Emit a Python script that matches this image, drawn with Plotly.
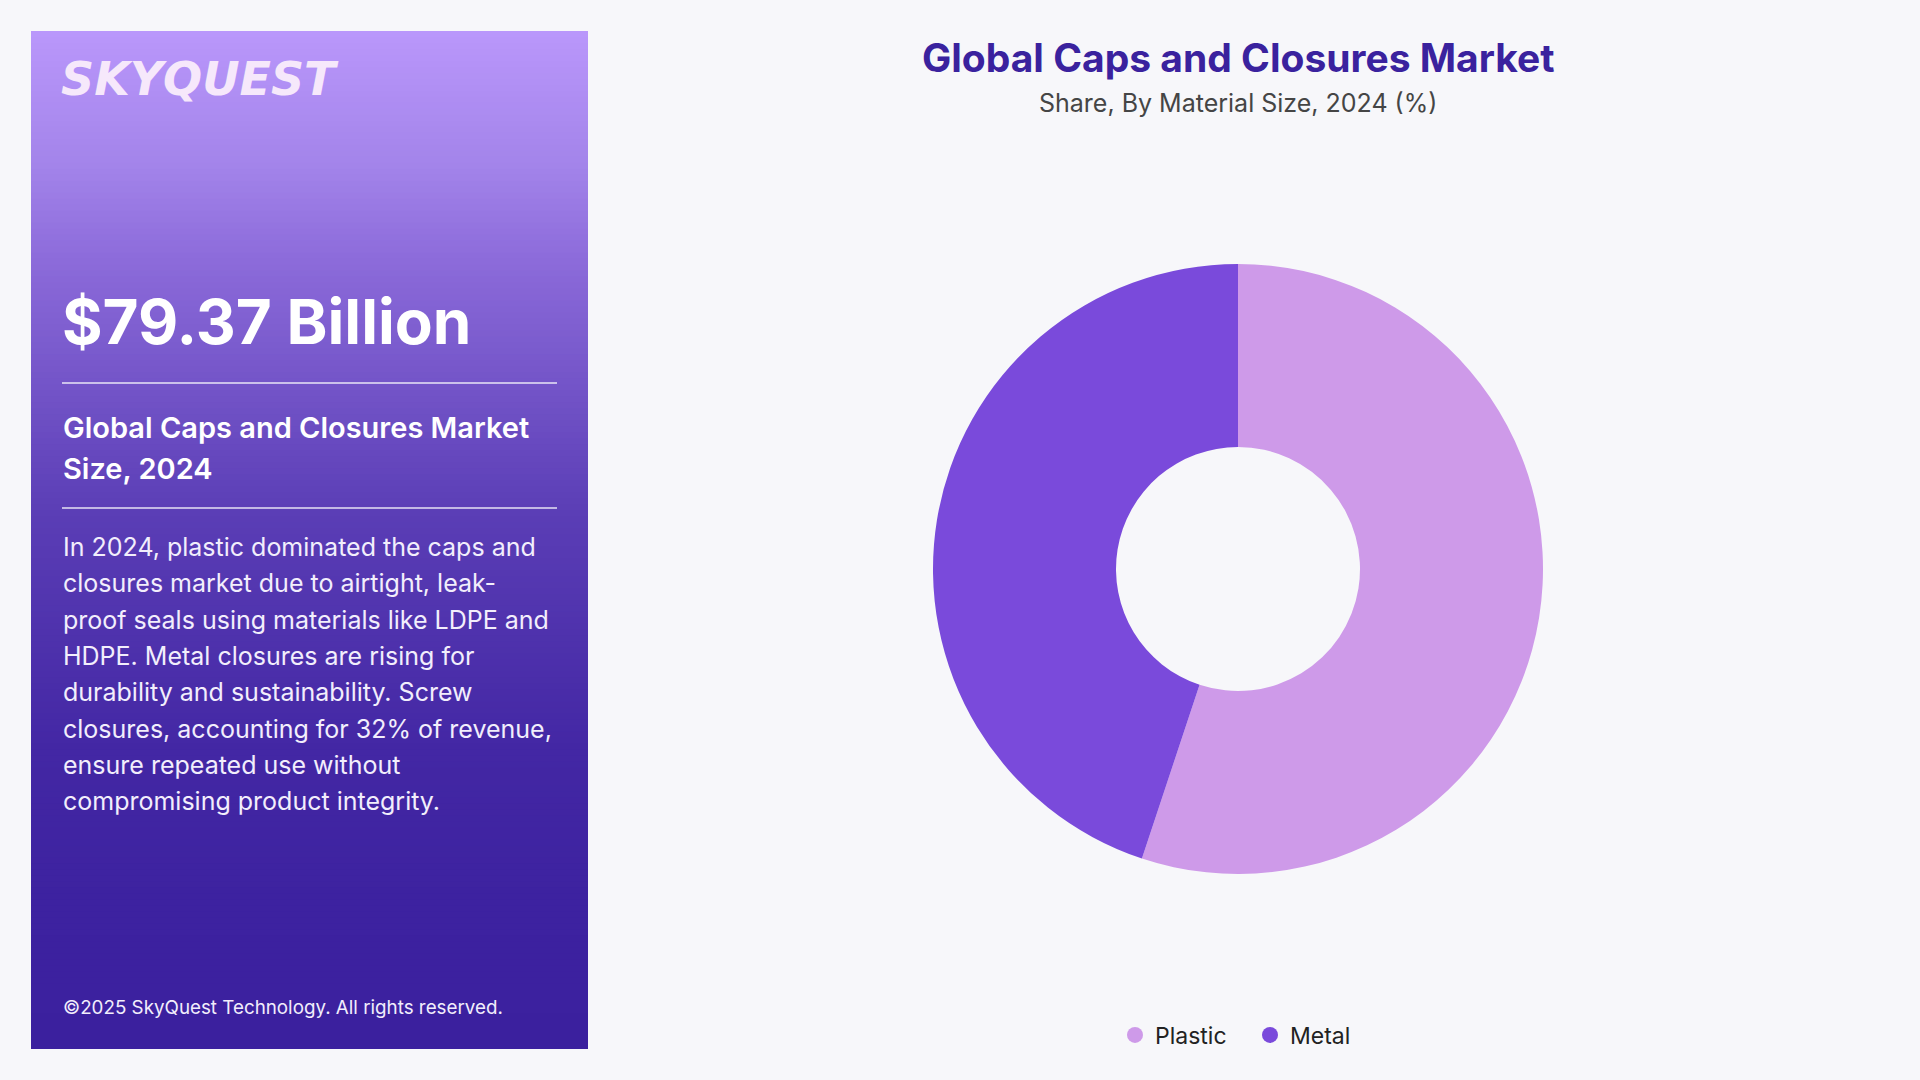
import plotly.graph_objects as go

# ---------------- data ----------------
categories = ["Plastic", "Metal"]
shares = [55.1, 44.9]
colors = ["#CE9AE9", "#7A4ADB"]

title_text = "Global Caps and Closures Market"
subtitle_text = "Share, By Material Size, 2024 (%)"
market_value = "$79.37 Billion"
panel_heading = ["Global Caps and Closures Market", "Size, 2024"]
panel_paragraph = [
    "In 2024, plastic dominated the caps and",
    "closures market due to airtight, leak-",
    "proof seals using materials like LDPE and",
    "HDPE. Metal closures are rising for",
    "durability and sustainability. Screw",
    "closures, accounting for 32% of revenue,",
    "ensure repeated use without",
    "compromising product integrity.",
]
footer_text = "©2025 SkyQuest Technology. All rights reserved."

W, H = 1920, 1080
FONT = "Inter"


def px(x):
    return x / W


def py(y):
    return 1 - y / H


fig = go.Figure()

R = 305
CX, CY = 1238, 569
fig.add_trace(go.Pie(
    labels=categories, values=shares,
    marker=dict(colors=colors, line=dict(width=0)),
    hole=0.4, sort=False, direction="clockwise", rotation=0,
    textinfo="none", hoverinfo="label+percent", showlegend=False,
    domain=dict(x=[px(CX - R), px(CX + R)], y=[py(CY + R), py(CY - R)]),
))

# legend entries with circle markers
for c, col in zip(categories, colors):
    fig.add_trace(go.Scatter(x=[None], y=[None], mode="markers", name=c,
                             marker=dict(color=col, size=21, symbol="circle"),
                             showlegend=True))

# ---------- left panel gradient ----------
stops = [(31, (0xB9, 0x97, 0xFB)), (165, (0xA3, 0x84, 0xEA)), (260, (0x8C, 0x6B, 0xDA)),
         (510, (0x5B, 0x3E, 0xB6)), (750, (0x43, 0x27, 0xA4)), (900, (0x3D, 0x22, 0xA0)),
         (1049, (0x3B, 0x20, 0x9E))]


def col_at(y):
    for (y0, c0), (y1, c1) in zip(stops[:-1], stops[1:]):
        if y0 <= y <= y1:
            t = (y - y0) / (y1 - y0)
            return "rgb(%d,%d,%d)" % tuple(round(a + (b - a) * t) for a, b in zip(c0, c1))
    return "rgb(%d,%d,%d)" % stops[-1][1]


shapes = []
n = 170
top, bot = 31, 1049
step = (bot - top) / n
for i in range(n):
    y0 = top + i * step
    y1 = min(bot, y0 + step + 1)
    shapes.append(dict(type="rect", xref="paper", yref="paper", layer="below",
                       x0=px(31), x1=px(588), y0=py(y1), y1=py(y0),
                       fillcolor=col_at(y0 + step / 2), line=dict(width=0)))

# divider lines
for yl in (383, 508):
    shapes.append(dict(type="line", xref="paper", yref="paper",
                       x0=px(62), x1=px(557), y0=py(yl), y1=py(yl),
                       line=dict(color="rgba(255,255,255,0.85)", width=1.5)))

ann = []


def add_text(text, x, y, size, color, weight=400, xanchor="left", style="normal", family=FONT):
    ann.append(dict(text=text, x=px(x), y=py(y), xref="paper", yref="paper",
                    xanchor=xanchor, yanchor="middle", showarrow=False,
                    font=dict(size=size, color=color, family=family, weight=weight, style=style)))


add_text("SKYQUEST", 59, 79, 46, "#F6E8FB", weight=700, style="italic", family="DejaVu Sans")
add_text(market_value, 60, 321, 62, "#FFFFFF", weight=700)
add_text(panel_heading[0], 61, 427, 29, "#FFFFFF", weight=600)
add_text(panel_heading[1], 61, 468, 29, "#FFFFFF", weight=600)
for i, line in enumerate(panel_paragraph):
    add_text(line, 61, 547 + i * 36.3, 25, "#F2EEFC")
add_text(footer_text, 61, 1007, 18.8, "#F2EEFC")

add_text(title_text, 1238, 58, 39, "#3A229E", weight=700, xanchor="center")
add_text(subtitle_text, 1238, 103, 25, "#454545", xanchor="center")

fig.update_layout(
    width=W, height=H, margin=dict(l=0, r=0, t=0, b=0),
    paper_bgcolor="#F7F7FA", plot_bgcolor="rgba(0,0,0,0)",
    shapes=shapes, annotations=ann,
    xaxis=dict(visible=False), yaxis=dict(visible=False),
    legend=dict(orientation="h", x=px(1250), xanchor="center", y=py(1035), yanchor="middle",
                font=dict(size=23, color="#222222", family=FONT),
                bgcolor="rgba(0,0,0,0)", itemsizing="trace",
                entrywidth=90, entrywidthmode="pixels"),
    font=dict(family=FONT),
)

fig.write_html("out.html", config={"displayModeBar": False},
               post_script="document.body.style.margin='0';")
